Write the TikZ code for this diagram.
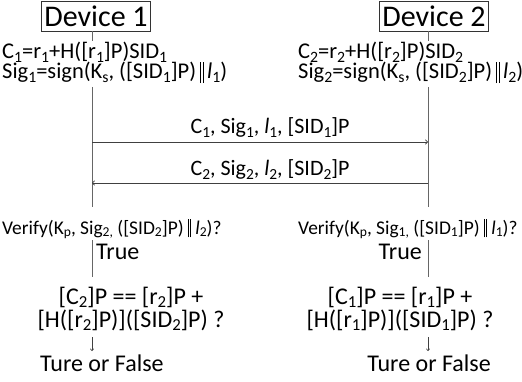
\documentclass[tikz,border=0pt]{standalone}
\usepackage{fontspec}
\setmainfont{Carlito}
\usetikzlibrary{arrows.meta}
\makeatletter
% subscript scaled to the font in force
\newcommand\dn[1]{\raisebox{-0.14em}{\fontsize{\strip@pt\dimexpr0.7\dimexpr\f@size pt\relax\relax}{0}\selectfont #1}}
\makeatother
% concatenation bars
\newcommand\pll{\rule[-0.18em]{0.55pt}{0.95em}\kern1.8pt\rule[-0.18em]{0.55pt}{0.95em}}
\tikzset{
  devbox/.style={draw=black!80, line width=0.8pt, font=\fontsize{30}{32}\selectfont,
    inner xsep=3pt, inner ysep=0pt, minimum height=30pt},
  txt/.style={font=\fontsize{22.5}{24}\selectfont, inner sep=0pt},
  lbl/.style={font=\fontsize{22}{24}\selectfont, inner sep=0pt},
  ver/.style={font=\fontsize{19.4}{21}\selectfont, inner sep=0pt},
  res/.style={font=\fontsize{24}{26}\selectfont, inner sep=0pt},
  life/.style={draw=black!60, line width=0.9pt},
  msg/.style={draw=black!75, line width=0.7pt, -{To[length=3pt,width=5pt]}},
  tick/.style={draw=black!75, line width=0.6pt, -{To[length=2.5pt,width=4pt]}}
}
\begin{document}
\begin{tikzpicture}[x=1pt,y=-1pt]
\useasboundingbox (0,0) rectangle (522,382);

% device headers
\node[devbox] (d1) at (96,16) {Device 1};
\node[devbox] (d2) at (434,16) {Device 2};

% local computations
\node[txt, anchor=base west] (c1) at (2,59) {C\dn{1}=r\dn{1}+H([r\dn{1}]P)SID\dn{1}};
\node[txt, anchor=base west] (s1) at (2,79) {Sig\dn{1}=sign(K\dn{s}, ([SID\dn{1}]P)\hspace{0.18em}\pll\hspace{0.18em}\textit{l}\dn{1})};
\node[txt, anchor=base west] (c2) at (298,59) {C\dn{2}=r\dn{2}+H([r\dn{2}]P)SID\dn{2}};
\node[txt, anchor=base west] (s2) at (298,79) {Sig\dn{2}=sign(K\dn{s}, ([SID\dn{2}]P)\hspace{0.18em}\pll\hspace{0.18em}\textit{l}\dn{2})};

% lifeline points
\coordinate (a1) at (92,41);
\coordinate (b1) at (92,87);
\coordinate (e1) at (92,207);
\coordinate (a2) at (428,41);
\coordinate (b2) at (428,87);
\coordinate (e2) at (428,207);
\coordinate (m1s) at (92,142);
\coordinate (m1e) at (428,142);
\coordinate (m2s) at (428,183);
\coordinate (m2e) at (92,183);

\draw[life] (d1.south -| a1) -- (a1);
\draw[life] (d2.south -| a2) -- (a2);
\draw[life] (b1) -- (e1);
\draw[life] (b2) -- (e2);

% exchanged messages
\draw[msg] (m1s) -- (m1e);
\draw[msg] (m2s) -- (m2e);
\node[lbl, anchor=base] (l1) at (270,134) {C\dn{1}, Sig\dn{1}, \textit{l}\dn{1}, [SID\dn{1}]P};
\node[lbl, anchor=base] (l2) at (270,176) {C\dn{2}, Sig\dn{2}, \textit{l}\dn{2}, [SID\dn{2}]P};

% verification on each side
\node[ver, anchor=base west] (v1) at (2,234) {Verify(K\dn{p}, Sig\dn{2,} ([SID\dn{2}]P) \pll\ \textit{l}\dn{2})?};
\node[ver, anchor=base west] (v2) at (298,234) {Verify(K\dn{p}, Sig\dn{1,} ([SID\dn{1}]P) \pll\ \textit{l}\dn{1})?};

\coordinate (t1a) at (92,240);
\coordinate (t1b) at (92,277);
\coordinate (t2a) at (428,240);
\coordinate (t2b) at (428,277);
\draw[life] (t1a) -- (t1b);
\draw[life] (t2a) -- (t2b);
\node[res, anchor=base west] (tr1) at (96,259) {True};
\node[res, anchor=base east] (tr2) at (422,259) {True};

\node[res, anchor=base] (f1) at (131,304) {[C\dn{2}]P == [r\dn{2}]P +};
\node[res, anchor=base] (g1) at (131,327) {[H([r\dn{2}]P)]([SID\dn{2}]P) ?};
\node[res, anchor=base] (f2) at (400,304) {[C\dn{1}]P == [r\dn{1}]P +};
\node[res, anchor=base] (g2) at (400,327) {[H([r\dn{1}]P)]([SID\dn{1}]P) ?};

\node[res, anchor=base west] (o1) at (40,371) {Ture or False};
\node[res, anchor=base east] (o2) at (491,371) {Ture or False};

\coordinate (k1a) at (92,337);
\coordinate (k1b) at (92,351);
\coordinate (k2a) at (428,337);
\coordinate (k2b) at (428,351);
\draw[tick] (k1a) -- (k1b);
\draw[tick] (k2a) -- (k2b);
\end{tikzpicture}
\end{document}
